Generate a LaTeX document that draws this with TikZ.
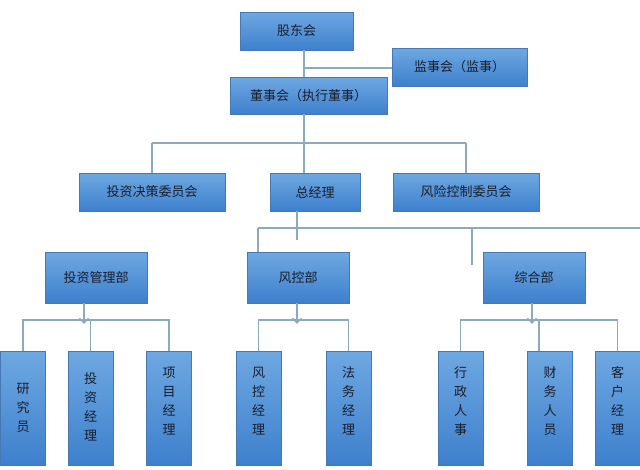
\documentclass[tikz,border=0pt]{standalone}
\usepackage{fontspec}
\setmainfont{Noto Sans CJK SC}
\usetikzlibrary{arrows.meta}
\definecolor{boxtop}{RGB}{110,168,225}
\definecolor{boxbot}{RGB}{62,128,205}
\definecolor{boxedge}{RGB}{70,120,180}
\definecolor{ln}{RGB}{140,170,190}
\definecolor{txt}{RGB}{25,30,45}
\tikzset{
  box/.style={draw=boxedge, line width=0.6pt, top color=boxtop, bottom color=boxbot, text=txt, font=\fontsize{13}{15}\selectfont, inner sep=0pt},
  leaf/.style={box},
  vt/.style={text=txt, font=\fontsize{13}{19}\selectfont, align=center, inner sep=0pt},
  conn/.style={draw=ln, line width=1.2pt},
  arr/.style={conn, -{Straight Barb[length=5pt,width=9pt,line width=1.2pt]}}
}
\begin{document}
\begin{tikzpicture}[x=1pt,y=-1pt]
\useasboundingbox[fill=white] (0,0) rectangle (640,469);
% level 0-1
\node[box, minimum width=113pt, minimum height=38pt] (gd) at (296.5,31) {股东会};
\node[box, minimum width=135pt, minimum height=38pt] (js) at (459.5,67) {监事会（监事）};
\node[box, minimum width=157pt, minimum height=37pt] (ds) at (308.5,95.5) {董事会（执行董事）};
% level 2
\node[box, minimum width=146pt, minimum height=38pt] (tz) at (152,192) {投资决策委员会};
\node[box, minimum width=90pt, minimum height=38pt] (zj) at (315,192) {总经理};
\node[box, minimum width=146pt, minimum height=38pt] (fx) at (466,192) {风险控制委员会};
% level 3
\node[box, minimum width=102pt, minimum height=51pt] (tg) at (96,277.5) {投资管理部};
\node[box, minimum width=102pt, minimum height=51pt] (fk) at (298,277.5) {风控部};
\node[box, minimum width=102pt, minimum height=51pt] (zh) at (534,277.5) {综合部};
% leaves
\foreach \n/\x in {l1/23, l2/90.5, l3/169, l4/258.5, l5/348.5, l6/460.5, l7/550, l8/617.5}{
  \node[leaf, minimum width=45pt, minimum height=114pt] (\n) at (\x,408) {};
}
\node[vt] (t1) at (l1.center) {研\\究\\员};
\node[vt] (t2) at ([yshift=1pt]l2.center) {投\\资\\经\\理};
\node[vt] (t3) at ([yshift=7pt]l3.center) {项\\目\\经\\理};
\node[vt] (t4) at ([yshift=7pt]l4.center) {风\\控\\经\\理};
\node[vt] (t5) at ([yshift=7pt]l5.center) {法\\务\\经\\理};
\node[vt] (t6) at ([yshift=7pt]l6.center) {行\\政\\人\\事};
\node[vt] (t7) at ([yshift=7pt]l7.center) {财\\务\\人\\员};
\node[vt] (t8) at ([yshift=7pt]l8.center) {客\\户\\经\\理};
% connectors top
\coordinate (a1) at (304,68);
\draw[conn] (gd.south -| a1) -- (ds.north -| a1);
\draw[conn] (a1) -- (js.west |- a1);
\coordinate (b1) at (304,143);
\draw[conn] (ds.south -| b1) -- (zj.north -| b1);
\draw[conn] (tz.north |- b1) -- (fx.north |- b1);
\draw[conn] (tz.north |- b1) -- (tz.north);
\draw[conn] (fx.north |- b1) -- (fx.north);
% level 3 connectors
\coordinate (c1) at (297,228);
\coordinate (c0) at (258,228);
\coordinate (cr) at (640,228);
\coordinate (cs) at (472,265);
\draw[conn] (zj.south -| c1) -- (297,240);
\draw[conn] (c0) -- (fk.north -| c0);
\draw[conn] (c0) -- (cr);
\draw[conn] (cs |- c1) -- (cs);
% leaf connectors
\coordinate (h1) at (0,320);
\draw[arr] (tg.south -| 84,0) -- (84,324);
\draw[conn] (l1.north) -- (l1.north |- h1) -- (l3.north |- h1) -- (l3.north);
\draw[conn] (l2.north |- h1) -- (l2.north);
\draw[arr] (fk.south -| 297,0) -- (297,324);
\draw[conn] (l4.north) -- (l4.north |- h1) -- (l5.north |- h1) -- (l5.north);
\draw[arr] (zh.south -| 532,0) -- (532,324);
\draw[conn] (l6.north) -- (l6.north |- h1) -- (l8.north |- h1) -- (l8.north);
\draw[conn] (539,320) -- (539,351);
\end{tikzpicture}
\end{document}
